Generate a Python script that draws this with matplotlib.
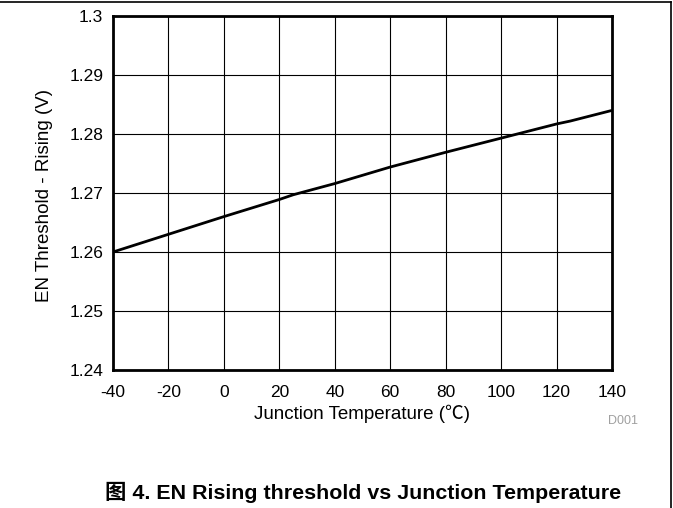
"""
EN rising threshold versus junction temperature, redrawn from a datasheet figure.
"""
import matplotlib
matplotlib.use("Agg")
import matplotlib.pyplot as plt
from matplotlib.lines import Line2D

plt.rcParams['font.family'] = ['Liberation Sans', 'Noto Sans CJK SC', 'DejaVu Sans']
plt.rcParams['axes.unicode_minus'] = False

# values
temperature = [-40, -20, 0, 20, 25, 40, 60, 80, 100, 120, 125, 140]
threshold = [1.2600, 1.2630, 1.2660, 1.2689, 1.2697, 1.2716, 1.2744,
             1.2769, 1.2793, 1.2817, 1.2822, 1.2840]

x_ticks = [-40, -20, 0, 20, 40, 60, 80, 100, 120, 140]
y_ticks = [1.24, 1.25, 1.26, 1.27, 1.28, 1.29, 1.30]
y_labels = ['1.24', '1.25', '1.26', '1.27', '1.28', '1.29', '1.3']

W, H = 673, 508
fig = plt.figure(figsize=(W / 100, H / 100), dpi=100)
ax = fig.add_axes([113 / W, 1 - 370 / H, (612 - 113) / W, (370 - 16) / H])

ax.plot(temperature, threshold, color='black', lw=2.0, solid_capstyle='butt')

ax.set_xlim(-40, 140)
ax.set_ylim(1.24, 1.30)
ax.set_xticks(x_ticks)
ax.set_yticks(y_ticks)
ax.set_yticklabels(y_labels)
ax.tick_params(length=0, labelsize=12.5, colors='black')
ax.tick_params(axis='x', pad=10.5)
ax.tick_params(axis='y', pad=7)
ax.grid(True, color='black', lw=0.8)
ax.set_axisbelow(True)
for sp in ax.spines.values():
    sp.set_linewidth(2.0)

# axis labels placed in figure pixels
fig.text(362 / W, 1 - 414 / H, 'Junction Temperature (℃)', fontsize=13.5,
         ha='center', va='center')
fig.text(45 / W, 1 - 196 / H, 'EN Threshold - Rising (V)', fontsize=13.5,
         ha='center', va='center', rotation=90)
fig.text(623 / W, 1 - 421 / H, 'D001', fontsize=9, color='#a0a0a0',
         ha='center', va='center')
fig.text(363 / W, 1 - 492 / H, '图 4. EN Rising threshold vs Junction Temperature',
         fontsize=15.4, fontweight='bold', ha='center', va='center')

# page border: top and right edges
fig.add_artist(Line2D([0, 671 / W], [1 - 2 / H, 1 - 2 / H], color='black', lw=1.2,
                      transform=fig.transFigure))
fig.add_artist(Line2D([671 / W, 671 / W], [0, 1 - 2 / H], color='black', lw=1.2,
                      transform=fig.transFigure))

fig.savefig('out.png', dpi=100)
